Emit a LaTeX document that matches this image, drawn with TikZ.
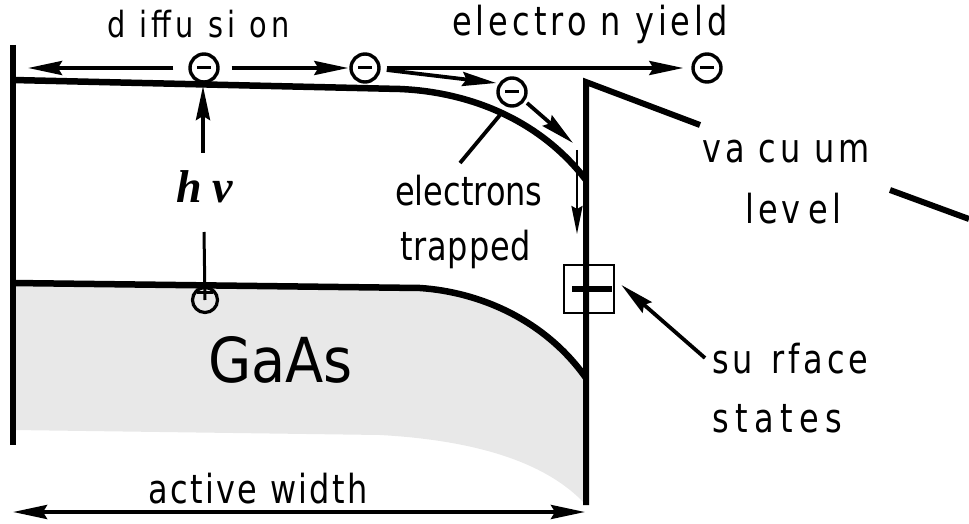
\documentclass[tikz,border=0pt]{standalone}
\usepackage{fontspec}
\usetikzlibrary{arrows.meta}
\newfontfamily\lblf{DejaVu Sans}[FakeStretch=0.8]
\newfontfamily\gaasf{DejaVu Sans}[FakeStretch=0.9]
\newfontfamily\hnufont{Liberation Serif}
\newcommand\gp[1][14pt]{\hspace{#1}}
\begin{document}
\begin{tikzpicture}[x=1pt,y=-1pt,
  band/.style={line width=6.5pt},
  wall/.style={line width=6pt},
  arr/.style={line width=3.8pt,-{Stealth[length=34pt,width=14pt,inset=4pt]}},
  dblarr/.style={line width=3.8pt,{Stealth[length=34pt,width=14pt,inset=4pt]}-{Stealth[length=34pt,width=14pt,inset=4pt]}},
  elec/.style={circle,draw,line width=3.4pt,minimum size=28pt,inner sep=0pt,
    path picture={\draw[line width=3pt] ([xshift=-7pt]path picture bounding box.center) -- ([xshift=7pt]path picture bounding box.center);}},
  lbl/.style={font=\lblf\fontsize{40}{44}\selectfont\addfontfeatures{LetterSpace=#1},inner sep=0pt,anchor=base west},
  lbl/.default=0,
  hnustyle/.style={font=\hnufont\bfseries\itshape\fontsize{46}{50}\selectfont,inner sep=0pt,anchor=base west},
]
\useasboundingbox (0,0) rectangle (969,524);
% shaded GaAs region
\fill[black!9] (13,283) -- (420,288) .. controls (480,292) and (545,320) .. (586,378)
  -- (586,505) .. controls (545,460) and (470,440) .. (380,435) -- (13,430) -- cycle;
% bands
\draw[band] (13,80) -- (400,89) .. controls (470,92) and (540,120) .. (586,180);
\draw[band] (13,283) -- (420,288) .. controls (480,292) and (545,320) .. (586,378);
% walls
\draw[wall] (13,45) -- (13,445);
\draw[wall] (586,505) -- (586,82) -- (700,125);
\draw[wall] (890,190) -- (969,219);
% electrons
\node[elec] (e1) at (204,68) {};
\node[elec] (e2) at (365,68) {};
\node[elec] (e3) at (707,68) {};
\node[elec] (e4) at (512,92) {};
\coordinate (lw) at (28,68);
\draw[arr] ([xshift=-15pt]e1.west) -- (lw);
\draw[arr] ([xshift=12pt]e1.east) -- ([xshift=-1pt]e2.west);
\draw[arr] ([xshift=6pt]e2.east) -- ([xshift=-8pt]e3.west);
\draw[arr] ([shift={(6,2)}]e2.east) -- ([shift={(0,-9)}]e4.west);
\draw[arr] ([shift={(15,11)}]e4.center) -- ([shift={(61,51)}]e4.center);
\coordinate (t2a) at (577,150);
\coordinate (t2b) at (577,234);
\draw[line width=2.6pt,-{Stealth[length=28pt,width=11pt,inset=3pt]}] (t2a) -- (t2b);
% photon
\node[hnustyle] (hnu) at (176,202) {h\hspace{11pt}ν};
\coordinate (cb) at (203,86);
\coordinate (hva) at (203,153);
\draw[arr] (hva) -- (cb);
\node[circle,draw,line width=3.2pt,minimum size=25pt,inner sep=0pt] (hole) at (205,300) {};
\coordinate (hvb) at (204,232);
\draw[line width=3pt] (hvb) -- (hole.center);
\draw[line width=3pt] ([shift={(-8,-8)}]hole.center) -- ([shift={(8,-8)}]hole.center);
% electrons trapped
\node[lbl] (et1) at (395,205) {electrons};
\node[lbl=2] (et2) at (400,260) {trapped};
\coordinate (l1) at (460,163);
\coordinate (l2) at (500,115);
\draw[line width=3.8pt] (l1) -- (l2);
% surface states box
\node[draw,line width=2.8pt,minimum width=50pt,minimum height=48pt,inner sep=0pt] (ss) at (589,289) {};
\draw[line width=5.5pt] ([xshift=-17pt]ss.center) -- ([xshift=23pt]ss.center);
\node[lbl=10] (sf1) at (712,373) {su\gp[18pt]rface};
\node[lbl=16] (sf2) at (712,432) {states};
\coordinate (sa) at (705,358);
\draw[arr] (sa) -- ([shift={(6,-4)}]ss.east);
% labels
\node[font=\lblf\fontsize{36}{40}\selectfont\addfontfeatures{LetterSpace=12},inner sep=0pt,anchor=base west] (dif) at (107,38) {d\gp iffu\gp si\gp on};
\node[lbl=10] (ey) at (452,36) {electro\gp n yield};
\node[lbl=10] (vac) at (702,163) {va\gp cu\gp um};
\node[lbl=10] (lev) at (745,223) {lev\gp[8pt]el};
\node[font=\gaasf\fontsize{62}{66}\selectfont,inner sep=0pt,anchor=base west] (gaas) at (208,382) {GaAs};
\node[lbl=6] (aw) at (148,503) {active width};
\coordinate (awl) at (13,512);
\coordinate (awr) at (585,512);
\draw[dblarr] (awl) -- (awr);
\end{tikzpicture}
\end{document}
